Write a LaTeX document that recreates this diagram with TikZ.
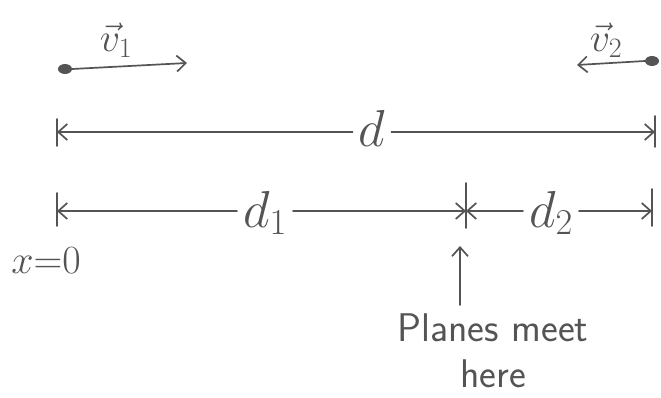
\RequirePackage{fix-cm}
\documentclass[tikz,border=0pt]{standalone}
\usepackage{fontspec}
\usetikzlibrary{arrows.meta,shapes.geometric}
\definecolor{pencilgray}{gray}{0.33}
\begin{document}
\begin{tikzpicture}[x=1pt,y=-1pt,
  pencil/.style={draw=pencilgray, line width=1.7pt, line cap=round},
  tip/.style={-{Straight Barb[length=9pt,width=16pt,line width=1.7pt]}},
  dotnode/.style={ellipse, fill=pencilgray, minimum width=14pt, minimum height=10pt, inner sep=0pt},
  mlbl/.style={text=pencilgray, font=\fontsize{52}{52}\selectfont, inner sep=6pt},
  slbl/.style={text=pencilgray, font=\fontsize{40}{40}\selectfont, inner sep=2pt},
  tlbl/.style={text=pencilgray, font=\sffamily\fontsize{40}{46}\selectfont, align=center, inner sep=0pt}]
\useasboundingbox[fill=white] (0,0) rectangle (661,398);
% velocities
\node[dotnode] (p1) at (65,69) {};
\coordinate (v1end) at (187,63);
\draw[pencil,tip] (p1.east) -- (v1end);
\node[slbl] (v1) at (116,40) {$\vec{v}_1$};
\node[dotnode] (p2) at (652,61) {};
\coordinate (v2end) at (577,65);
\draw[pencil,tip] (p2.west) -- (v2end);
\node[slbl] (v2) at (606,40) {$\vec{v}_2$};
% row d
\coordinate (A) at (57,132);
\coordinate (B) at (655,132);
\draw[pencil] (A) ++(0,-13) -- ++(0,27);
\draw[pencil] (B) ++(0,-16) -- ++(0,31);
\node[mlbl, anchor=base] (d) at (372,147) {$d$};
\draw[pencil,tip] (d.west |- A) -- (A);
\draw[pencil,tip] (d.east |- B) -- (B);
% row d1 d2
\coordinate (C) at (57,211);
\coordinate (M) at (466,211);
\coordinate (E) at (652,211);
\draw[pencil] (C) ++(0,-18) -- ++(0,33);
\draw[pencil] (M) ++(0,-28) -- ++(0,45);
\draw[pencil] (E) ++(0,-22) -- ++(0,37);
\node[mlbl, anchor=base] (d1) at (265,227) {$d_1$};
\node[mlbl, anchor=base] (d2) at (551,227) {$d_2$};
\draw[pencil,tip] (d1.west |- C) -- (C);
\draw[pencil,tip] (d1.east |- M) -- (M);
\draw[pencil,tip] (d2.west |- M) -- (M);
\draw[pencil,tip] (d2.east |- E) -- (E);
% x=0
\node[slbl] (x0) at (46,261) {$x{=}0$};
% planes meet here
\node[tlbl] (pm) at (493,351) {Planes meet\\here};
\coordinate (up) at (460,246);
\coordinate (upst) at (460,305);
\draw[pencil,tip] (upst) -- (up);
\end{tikzpicture}
\end{document}
